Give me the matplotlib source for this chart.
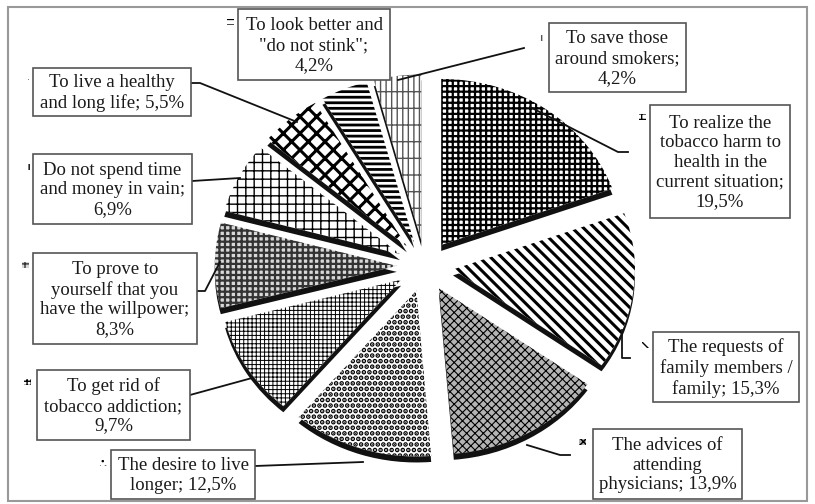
import matplotlib.pyplot as plt
from matplotlib.patches import Rectangle

plt.rcParams['font.family'] = ['Liberation Serif', 'DejaVu Serif']
plt.rcParams['hatch.color'] = 'black'

# data -------------------------------------------------------------
reasons = ['To realize the\ntobacco harm to\nhealth in the\ncurrent situation;',
           'The requests of\nfamily members /\nfamily;',
           'The advices of\nattending\nphysicians;',
           'The desire to live\nlonger;',
           'To get rid of\ntobacco addiction;',
           'To prove to\nyourself that you\nhave the willpower;',
           'Do not spend time\nand money in vain;',
           'To live a healthy\nand long life;',
           'To look better and\n"do not stink";',
           'To save those\naround smokers;']
shares = [19.5, 15.3, 13.9, 12.5, 9.7, 8.3, 6.9, 5.5, 4.2, 4.2]
# percent goes on same line or next line
pct_newline = [True, False, False, False, True, True, True, False, True, True]

# styles per slice
hatches = ['+++', '\\\\\\', 'xxxx', '...', '++++', '+++', '++', 'xx', '---', '|||-']
faces = ['white', 'white', '#b4b4b4', 'white', 'white', '#d8d8d8', 'white', 'white', 'white', 'white']
hcols = ['black', 'black', 'black', 'black', 'black', '#333333', 'black', 'black', 'black', '#555555']
hlw = [1.6, 2.2, 0.8, 2.4, 0.7, 1.6, 1.0, 2.2, 2.0, 1.0]

# label layout in pixels (x0, y0, x1, y1)
boxes = [(650, 105, 790, 218), (653, 332, 799, 402), (593, 429, 742, 499),
         (111, 450, 255, 499), (37, 370, 190, 440), (33, 253, 197, 344),
         (33, 154, 192, 224), (33, 68, 191, 116), (238, 9, 390, 80),
         (549, 23, 686, 92)]
keys = [(642, 117), (645, 345), (582, 442), (103, 463), (27, 382),
        (25, 265), (27, 167), (25, 82), (230, 22), (541, 38)]
leaders = [[(530, 107), (618, 152), (628, 152)],
           [(622, 330), (622, 358), (630, 358)],
           [(527, 445), (560, 455), (570, 455)],
           [(363, 462), (255, 466)],
           [(252, 378), (190, 395)],
           [(220, 262), (205, 291), (197, 291)],
           [(240, 178), (192, 181)],
           [(297, 122), (200, 83), (191, 83)],
           [],
           [(398, 80), (524, 48)]]

W, H = 815, 504
fig = plt.figure(figsize=(W / 100, H / 100), dpi=100)

# pie axes: ellipse center (425,266) px, rx 182 px, ry 166 px
cx, cy, rx, ry = 425, 266, 182, 166
lim = 1.5
ax = fig.add_axes([(cx - lim * rx) / W, (H - cy - lim * ry) / H,
                   2 * lim * rx / W, 2 * lim * ry / H])
explode = [0.155] * len(shares)

# dark "3d" side below each slice
shadow, _ = ax.pie(shares, explode=explode, startangle=90, counterclock=False,
                   colors=['#111111'] * len(shares), center=(0, -0.036),
                   wedgeprops=dict(linewidth=0))
wedges, _ = ax.pie(shares, explode=explode, startangle=90, counterclock=False,
                   colors=faces, wedgeprops=dict(linewidth=0))
for w, h, c, lw in zip(wedges, hatches, hcols, hlw):
    w.set_hatch(h)
    w.set_edgecolor(c)
    w.set_linewidth(0)
    if hasattr(w, 'set_hatch_linewidth'):
        w.set_hatch_linewidth(lw)
ax.set_aspect('auto')
ax.set_xlim(-lim, lim)
ax.set_ylim(-lim, lim)
ax.axis('off')

# overlay in pixel coords for labels
ov = fig.add_axes([0, 0, 1, 1], facecolor='none')
ov.set_xlim(0, W)
ov.set_ylim(H, 0)
ov.axis('off')

for i, (r, v) in enumerate(zip(reasons, shares)):
    pct = ('%.1f%%' % v).replace('.', ',')
    txt = r + ('\n' if pct_newline[i] else ' ') + pct
    x0, y0, x1, y1 = boxes[i]
    ov.add_patch(Rectangle((x0, y0), x1 - x0, y1 - y0, facecolor='white',
                           edgecolor='#555555', linewidth=1.2, zorder=3))
    ov.text((x0 + x1) / 2, (y0 + y1) / 2 + 1, txt, ha='center', va='center',
            fontsize=13.5, color='#1a1a1a', linespacing=1.2, zorder=4)
    kx, ky = keys[i]
    k = Rectangle((kx - 3.5, ky - 3), 7, 6, facecolor=faces[i],
                  edgecolor=hcols[i], hatch=hatches[i], linewidth=0, zorder=3)
    ov.add_patch(k)
    if leaders[i]:
        xs = [p[0] for p in leaders[i]]
        ys = [p[1] for p in leaders[i]]
        ov.plot(xs, ys, color='#111111', linewidth=1.3, zorder=2)

# outer frame
ov.add_patch(Rectangle((8, 7), W - 16, H - 10, facecolor='none',
                       edgecolor='#999999', linewidth=1.5, zorder=1))

fig.savefig('out.png', dpi=100)
